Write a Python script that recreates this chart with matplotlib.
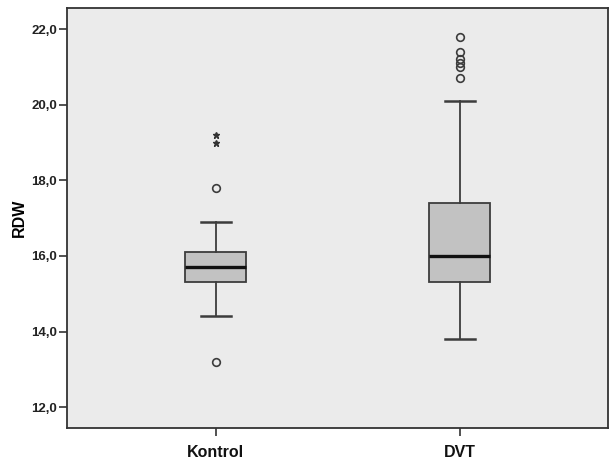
import matplotlib
matplotlib.use("Agg")
import matplotlib.pyplot as plt

# --- dane ---
groups = ["Kontrol", "DVT"]
q1 = [15.3, 15.3]
med = [15.7, 16.0]
q3 = [16.1, 17.4]
whislo = [14.4, 13.8]
whishi = [16.9, 20.1]
outliers_circle = [[17.8, 13.2], [21.8, 21.4, 21.2, 21.1, 21.0, 20.7]]
outliers_star = [[19.2, 19.0], []]

yticks = [12.0, 14.0, 16.0, 18.0, 20.0, 22.0]

plt.rcParams['font.family'] = ['Liberation Sans', 'DejaVu Sans']

fig = plt.figure(figsize=(6.11, 4.61), dpi=100)
ax = fig.add_axes([0.109, 0.0716, 0.886, 0.911])
ax.set_facecolor('#ebebeb')

edge = '#3c3c3c'
stats = []
for i, g in enumerate(groups):
    stats.append(dict(label=g, q1=q1[i], med=med[i], q3=q3[i],
                      whislo=whislo[i], whishi=whishi[i], fliers=[]))

positions = list(range(1, len(groups) + 1))
ax.bxp(stats, positions=positions, widths=0.25, patch_artist=True,
       showfliers=False,
       boxprops=dict(facecolor='#c2c2c2', edgecolor=edge, linewidth=1.3),
       medianprops=dict(color='#111111', linewidth=2.4),
       whiskerprops=dict(color=edge, linewidth=1.3),
       capprops=dict(color=edge, linewidth=1.8),
       capwidths=0.125)

for i, pos in enumerate(positions):
    if outliers_circle[i]:
        ax.plot([pos] * len(outliers_circle[i]), outliers_circle[i], 'o',
                markerfacecolor='none', markeredgecolor=edge,
                markersize=5.5, markeredgewidth=1.2)
    if outliers_star[i]:
        ax.plot([pos] * len(outliers_star[i]), outliers_star[i], '*',
                color='#333333', markersize=5)

ax.set_xlim(0.388, 2.607)
ax.set_ylim(11.45, 22.56)
ax.set_yticks(yticks)
ax.set_yticklabels([f"{v:.1f}".replace('.', ',') for v in yticks],
                   fontsize=9.5, fontweight='bold', color='#222222')
ax.set_xticks(positions)
ax.set_xticklabels(groups, fontsize=11.5, fontweight='bold', color='#111111')
ax.tick_params(axis='y', length=6, width=1.2, color='#333333', pad=1)
ax.tick_params(axis='x', length=6, width=1.2, color='#333333', pad=6)
ax.set_ylabel('RDW', fontsize=11.5, fontweight='bold', labelpad=3)

for s in ax.spines.values():
    s.set_linewidth(1.3)
    s.set_color('#333333')

fig.savefig('out.png', dpi=100, facecolor='white')
